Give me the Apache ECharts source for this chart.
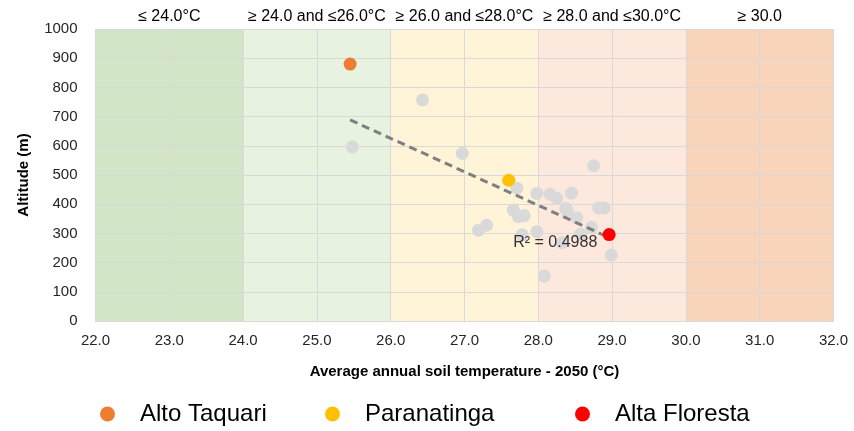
<!DOCTYPE html>
<html><head><meta charset="utf-8">
<script src="https://cdn.jsdelivr.net/npm/echarts@6/dist/echarts.min.js"></script>
<style>html,body{margin:0;padding:0;background:#fff}#c{width:854px;height:431px}</style>
</head><body><div id="c"></div>
<script>
// Band definitions (temperature ranges) and their top labels
var bandStarts = [22, 24, 26, 28, 30];
var bandEnds   = [24, 26, 28, 30, 32];
var bandLabels = ['≤ 24.0°C', '≥ 24.0 and ≤26.0°C', '≥ 26.0 and ≤28.0°C', '≥ 28.0 and ≤30.0°C', '≥ 30.0'];
var bandColors = ['#D2E5C6', '#E7F2E0', '#FFF3D8', '#FCE8DC', '#F8D5BA'];

// Other municipalities (grey points): temperature, altitude
var otherTemp = [25.48, 26.43, 26.97, 27.71, 27.98, 28.16, 28.25, 28.45, 28.75, 28.37, 28.39, 28.52, 28.82, 28.89, 28.72, 28.99, 27.66, 27.73, 27.81, 27.30, 27.19, 27.98, 28.08, 27.78, 28.32, 28.57];
var otherAlt  = [596, 757, 574, 455, 437, 434, 420, 438, 532, 385, 378, 354, 387, 387, 320, 226, 380, 357, 361, 328, 311, 306, 154, 295, 268, 297];

// Highlighted municipalities
var hlNames = ['Alto Taquari', 'Paranatinga', 'Alta Floresta'];
var hlTemp  = [25.45, 27.60, 28.96];
var hlAlt   = [880, 482, 296];
var hlColors = ['#ED7D31', '#FFC000', '#FF0000'];

var r2Text = 'R² = 0.4988';
var r2Pos = [28.23, 268];

// Linear trend (least squares over all points)
var allX = otherTemp.concat(hlTemp), allY = otherAlt.concat(hlAlt);
var n = allX.length, sx = 0, sy = 0, sxx = 0, sxy = 0;
for (var i = 0; i < n; i++) { sx += allX[i]; sy += allY[i]; sxx += allX[i]*allX[i]; sxy += allX[i]*allY[i]; }
var slope = (n*sxy - sx*sy) / (n*sxx - sx*sx);
var icpt = (sy - slope*sx) / n;
var xMin = Math.min.apply(null, allX), xMax = Math.max.apply(null, allX);
var trend = [[xMin, icpt + slope*xMin], [xMax, icpt + slope*xMax]];

var font = 'Liberation Sans';
var series = [];
series.push({
  type: 'scatter', data: [], zlevel: -1, z: -1, silent: true,
  markArea: {
    silent: true, zlevel: -1, z: -1,
    data: bandStarts.map(function (s, i) {
      return [{ xAxis: s, yAxis: 0, itemStyle: { color: bandColors[i] },
        label: { show: true, position: 'top', distance: 4, formatter: bandLabels[i], color: '#000', fontSize: 16, fontFamily: font } },
        { xAxis: bandEnds[i], yAxis: 1000 }];
    })
  }
});
series.push({
  name: 'other', type: 'scatter', symbolSize: 13, z: 3,
  itemStyle: { color: '#D9D9D9', opacity: 1 },
  data: otherTemp.map(function (t, i) { return [t, otherAlt[i]]; })
});
hlNames.forEach(function (nm, i) {
  series.push({ name: nm, type: 'scatter', symbolSize: 13, z: 5,
    itemStyle: { color: hlColors[i], opacity: 1 },
    data: [[hlTemp[i], hlAlt[i]]] });
});
series.push({
  type: 'line', data: trend, symbol: 'none', z: 4, silent: true,
  lineStyle: { color: '#7F7F7F', width: 3, type: [8, 5] }
});
series.push({
  type: 'scatter', data: [r2Pos], symbolSize: 0, z: 6, silent: true,
  label: { show: true, position: 'inside', formatter: r2Text, color: '#000', fontSize: 16, fontFamily: font }
});

var legendLefts = [100, 325, 575];
var legends = hlNames.map(function (nm, i) {
  return {
    data: [nm], bottom: 5, left: legendLefts[i], icon: 'circle', itemWidth: 15, itemHeight: 15, padding: 0,
    textStyle: { fontSize: 24, color: '#000', fontFamily: font, padding: [0, 0, 0, 20] }
  };
});

var chart = echarts.init(document.getElementById('c'), null, { renderer: 'canvas' });
chart.setOption({
  animation: false,
  backgroundColor: 'transparent',
  textStyle: { fontFamily: font },
  grid: { left: 95.5, right: 20.5, top: 29, bottom: 110 },
  legend: legends,
  xAxis: {
    type: 'value', min: 22, max: 32, interval: 1,
    name: 'Average annual soil temperature - 2050 (°C)', nameLocation: 'middle', nameGap: 43,
    nameTextStyle: { fontWeight: 'bold', fontSize: 15, color: '#000' },
    axisLine: { show: true, lineStyle: { color: '#D9D9D9' } }, axisTick: { show: false },
    axisLabel: { formatter: function (v) { return v.toFixed(1); }, fontSize: 15, color: '#262626', margin: 12 },
    splitLine: { show: true, lineStyle: { color: '#D9D9D9' } }
  },
  yAxis: {
    type: 'value', min: 0, max: 1000, interval: 100,
    name: 'Altitude (m)', nameLocation: 'middle', nameGap: 64,
    nameTextStyle: { fontWeight: 'bold', fontSize: 15, color: '#000' },
    axisLine: { show: false }, axisTick: { show: false },
    axisLabel: { formatter: function (v) { return String(v); }, fontSize: 15, color: '#262626', margin: 18 },
    splitLine: { show: true, lineStyle: { color: '#D9D9D9' } }
  },
  series: series
});
</script></body></html>
